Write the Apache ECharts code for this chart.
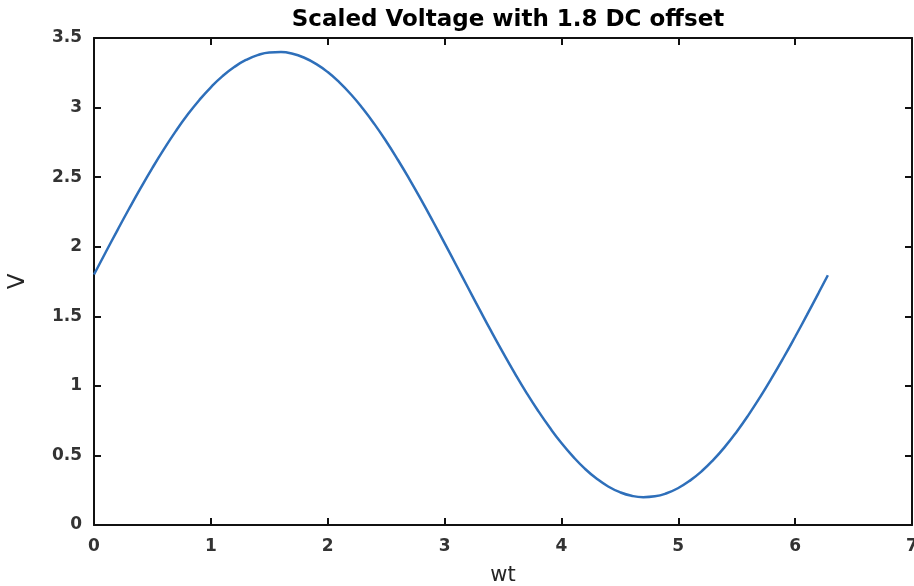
<!DOCTYPE html>
<html>
<head>
<meta charset="utf-8">
<script src="https://cdn.jsdelivr.net/npm/echarts@6/dist/echarts.min.js"></script>
<style>html,body{margin:0;padding:0;background:#fff}#c{width:914px;height:586px}</style>
</head>
<body>
<div id="c"></div>
<script>
const wt = [0,0.1,0.2,0.3,0.4,0.5,0.6,0.7,0.8,0.9,1.0,1.1,1.2,1.3,1.4,1.5,1.6,1.7,1.8,1.9,2.0,2.1,2.2,2.3,2.4,2.5,2.6,2.7,2.8,2.9,3.0,3.1,3.2,3.3,3.4,3.5,3.6,3.7,3.8,3.9,4.0,4.1,4.2,4.3,4.4,4.5,4.6,4.7,4.8,4.9,5.0,5.1,5.2,5.3,5.4,5.5,5.6,5.7,5.8,5.9,6.0,6.1,6.2,6.28];
const voltage = [1.800,1.960,2.118,2.273,2.423,2.567,2.703,2.831,2.948,3.053,3.146,3.226,3.291,3.342,3.377,3.396,3.399,3.387,3.358,3.314,3.255,3.181,3.094,2.993,2.881,2.758,2.625,2.484,2.336,2.183,2.026,1.867,1.707,1.548,1.391,1.239,1.092,0.952,0.821,0.700,0.589,0.491,0.405,0.334,0.277,0.236,0.210,0.200,0.206,0.228,0.266,0.319,0.386,0.468,0.563,0.671,0.790,0.919,1.057,1.202,1.353,1.508,1.667,1.795];
const xTicks = [0,1,2,3,4,5,6,7];
const yTicks = [0,0.5,1,1.5,2,2.5,3,3.5];
const titleText = 'Scaled Voltage with 1.8 DC offset';
const xName = 'wt';
const yName = 'V';

const font = '"DejaVu Sans", Verdana, sans-serif';
const axisColor = '#111';
const labelStyle = {color: '#333', fontSize: 17, fontWeight: 'bold', fontFamily: font};
const chart = echarts.init(document.getElementById('c'), null, {renderer: 'canvas'});
const pts = wt.map((x, i) => [x, voltage[i]]);
const baseX = {
  type: 'value', min: xTicks[0], max: xTicks[xTicks.length - 1], interval: 1,
  axisLine: {show: true, onZero: false, lineStyle: {color: axisColor, width: 2}},
  axisTick: {show: true, inside: true, length: 7, lineStyle: {color: axisColor, width: 2}},
  splitLine: {show: false}
};
const baseY = {
  type: 'value', min: yTicks[0], max: yTicks[yTicks.length - 1], interval: 0.5,
  axisLine: {show: true, onZero: false, lineStyle: {color: axisColor, width: 2}},
  axisTick: {show: true, inside: true, length: 7, lineStyle: {color: axisColor, width: 2}},
  splitLine: {show: false}
};
chart.setOption({
  animation: false,
  backgroundColor: '#fff',
  title: {
    text: titleText, left: 503, top: 4, textAlign: 'center',
    textStyle: {fontSize: 23, fontWeight: 'bold', color: '#000', fontFamily: font}
  },
  grid: {left: 94, right: 2, top: 38, bottom: 61, containLabel: false, outerBoundsMode: 'none'},
  xAxis: [
    Object.assign({}, baseX, {
      position: 'bottom',
      name: xName, nameLocation: 'middle', nameGap: 40,
      nameTextStyle: {fontSize: 21, color: '#262626', fontFamily: font},
      axisLabel: Object.assign({margin: 13}, labelStyle)
    }),
    Object.assign({}, baseX, {position: 'top', axisLabel: {show: false}})
  ],
  yAxis: [
    Object.assign({}, baseY, {
      position: 'left',
      name: yName, nameLocation: 'middle', nameGap: 64,
      nameTextStyle: {fontSize: 23, color: '#262626', fontFamily: font},
      axisLabel: Object.assign({margin: 12}, labelStyle)
    }),
    Object.assign({}, baseY, {position: 'right', axisLabel: {show: false}})
  ],
  series: [{
    type: 'line', data: pts, smooth: true, showSymbol: false,
    xAxisIndex: 0, yAxisIndex: 0,
    lineStyle: {color: '#2e6fba', width: 2.5}
  }]
});
</script>
</body>
</html>
